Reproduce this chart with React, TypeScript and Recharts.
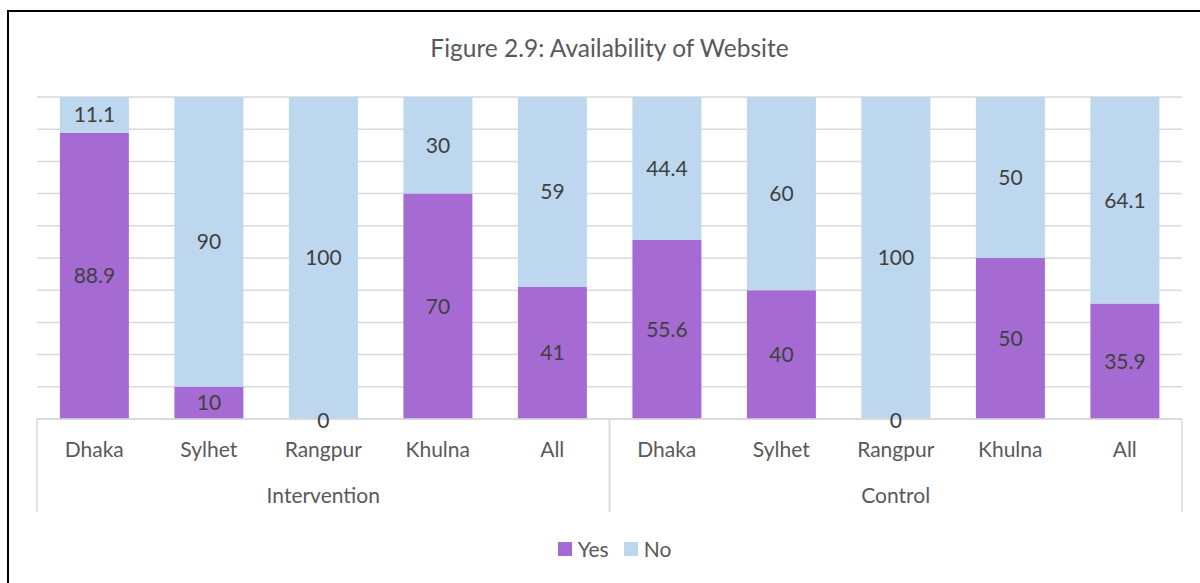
import React from 'react';
import { BarChart, Bar, XAxis, YAxis, CartesianGrid, LabelList } from 'recharts';

const categories = ['Dhaka', 'Sylhet', 'Rangpur', 'Khulna', 'All', 'Dhaka', 'Sylhet', 'Rangpur', 'Khulna', 'All'];
const groups = ['Intervention', 'Intervention', 'Intervention', 'Intervention', 'Intervention', 'Control', 'Control', 'Control', 'Control', 'Control'];
const yesValues = [88.9, 10, 0, 70, 41, 55.6, 40, 0, 50, 35.9];
const noValues = [11.1, 90, 100, 30, 59, 44.4, 60, 100, 50, 64.1];
const seriesNames = ['Yes', 'No'];
const seriesColors = ['#A56BD2', '#BDD7EE'];
const yTicks = [0, 10, 20, 30, 40, 50, 60, 70, 80, 90, 100];
const title = 'Figure 2.9: Availability of Website';

const data = categories.map((c, i) => ({
  id: `${groups[i]}-${c}`,
  name: c,
  group: groups[i],
  yes: yesValues[i],
  no: noValues[i],
}));

const FONT = 'Lato, "Open Sans", sans-serif';
const TEXT = '#595959';
const LABEL = '#404040';
const LINE = '#D9D9D9';
const FS = 21;

const CategoryTick = (props: any) => {
  const { x, y, index, width, visibleTicksCount } = props;
  const band = width / visibleTicksCount;
  const d = data[index];
  if (!d) return null;
  const left = x - band / 2;
  const right = x + band / 2;
  const first = index === 0 || data[index - 1].group !== d.group;
  const last = index === data.length - 1 || data[index + 1].group !== d.group;
  let groupLabel = null;
  if (first) {
    let count = 0;
    for (let j = index; j < data.length && data[j].group === d.group; j++) count++;
    groupLabel = (
      <text x={left + (band * count) / 2} y={y + 84} textAnchor="middle" fill={TEXT} fontSize={FS} fontFamily={FONT}>
        {d.group}
      </text>
    );
  }
  return (
    <g>
      <text x={x} y={y + 38} textAnchor="middle" fill={TEXT} fontSize={FS} fontFamily={FONT}>
        {d.name}
      </text>
      {first && <line x1={left} x2={left} y1={y} y2={y + 93} stroke={LINE} strokeWidth={1.5} />}
      {last && <line x1={right} x2={right} y1={y} y2={y + 93} stroke={LINE} strokeWidth={1.5} />}
      {groupLabel}
    </g>
  );
};

// Renders the "Yes" value when it is zero (its bar has no height), at the base of the stack.
const ZeroYesLabel = (props: any) => {
  const { x, y, width, height, value } = props;
  if (value !== 0) return null;
  return (
    <text
      x={Number(x) + Number(width) / 2}
      y={Number(y) + Number(height)}
      textAnchor="middle"
      dominantBaseline="central"
      fill={LABEL}
      fontSize={FS}
      fontFamily={FONT}
    >
      {value}
    </text>
  );
};

export default function App() {
  return (
    <div style={{ position: 'fixed', left: 0, top: 0, width: 1200, height: 583, overflow: 'hidden', background: '#fff' }}>
      <div
        style={{
          position: 'absolute',
          left: 7,
          top: 10,
          width: 1300,
          height: 700,
          borderLeft: '2px solid #000',
          borderTop: '2px solid #000',
        }}
      />
      <div
        style={{
          position: 'absolute',
          left: 0,
          top: 34,
          width: 1219,
          textAlign: 'center',
          fontFamily: FONT,
          fontSize: 24.5,
          lineHeight: '28px',
          color: TEXT,
        }}
      >
        {title}
      </div>
      <div style={{ position: 'absolute', left: 0, top: 0 }}>
        <BarChart
          width={1200}
          height={583}
          data={data}
          margin={{ top: 97, right: 18, left: 37, bottom: 70 }}
          barCategoryGap="20%"
        >
          <CartesianGrid vertical={false} stroke={LINE} strokeWidth={1.5} />
          <YAxis hide type="number" domain={[0, 100]} ticks={yTicks} />
          <XAxis
            dataKey="id"
            height={94}
            tickSize={0}
            tickMargin={0}
            tickLine={false}
            axisLine={{ stroke: LINE, strokeWidth: 1.5 }}
            interval={0}
            tick={<CategoryTick />}
          />
          <Bar dataKey="yes" name={seriesNames[0]} stackId="a" fill={seriesColors[0]} isAnimationActive={false}>
            <LabelList dataKey="yes" position="center" fill={LABEL} fontSize={FS} fontFamily={FONT} />
          </Bar>
          <Bar dataKey="no" name={seriesNames[1]} stackId="a" fill={seriesColors[1]} isAnimationActive={false}>
            <LabelList dataKey="no" position="center" fill={LABEL} fontSize={FS} fontFamily={FONT} />
            <LabelList dataKey="yes" content={<ZeroYesLabel />} />
          </Bar>
        </BarChart>
      </div>
      <div
        style={{
          position: 'absolute',
          left: 0,
          top: 536,
          width: 1229,
          display: 'flex',
          justifyContent: 'center',
          alignItems: 'center',
          fontFamily: FONT,
          fontSize: FS,
          color: TEXT,
        }}
      >
        {seriesNames.map((n, i) => (
          <div key={n} style={{ display: 'flex', alignItems: 'center', marginRight: i === 0 ? 15 : 0 }}>
            <span style={{ display: 'inline-block', width: 14, height: 14, background: seriesColors[i], marginRight: 6 }} />
            <span style={{ lineHeight: '26px' }}>{n}</span>
          </div>
        ))}
      </div>
    </div>
  );
}
